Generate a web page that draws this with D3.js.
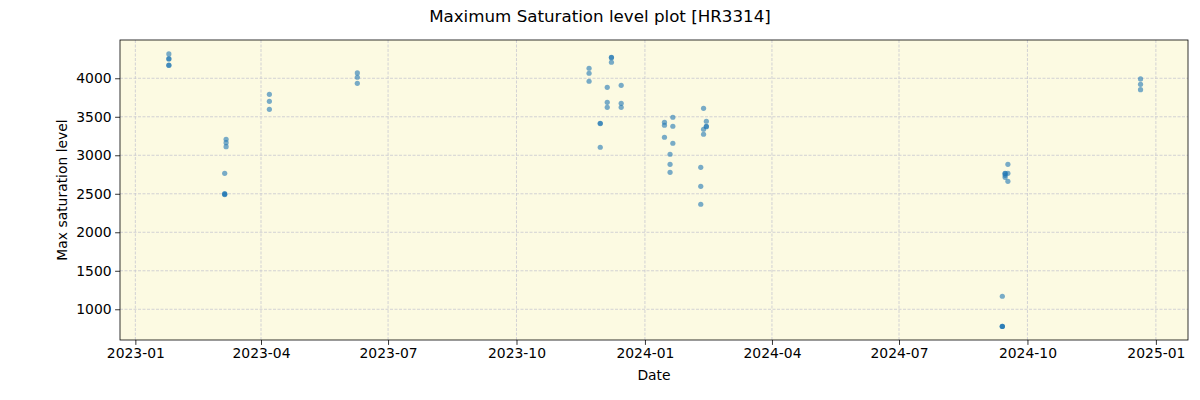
<!DOCTYPE html>
<html><head><meta charset="utf-8">
<script src="https://cdn.jsdelivr.net/npm/d3@7"></script>
<style>body{margin:0;background:#fff;} text{font-family:"DejaVu Sans",sans-serif;}</style>
</head><body>
<svg id="c" width="1200" height="400"></svg>
<script>
const dates = [
 "2023-01-25","2023-01-25","2023-01-25","2023-01-25","2023-01-25",
 "2023-03-07","2023-03-07","2023-03-07","2023-03-06","2023-03-06","2023-03-06","2023-03-06",
 "2023-04-07","2023-04-07","2023-04-07",
 "2023-06-09","2023-06-09","2023-06-09",
 "2023-11-22","2023-11-22","2023-11-22",
 "2023-12-08","2023-12-08","2023-12-08",
 "2023-12-05","2023-12-05","2023-12-05",
 "2023-12-15","2023-12-15","2023-12-15",
 "2023-11-30","2023-11-30","2023-11-30",
 "2024-01-15","2024-01-15","2024-01-15",
 "2024-01-21","2024-01-21","2024-01-21",
 "2024-01-19","2024-01-19","2024-01-19",
 "2024-02-10","2024-02-10","2024-02-10",
 "2024-02-12","2024-02-12","2024-02-12",
 "2024-02-14","2024-02-14","2024-02-14",
 "2024-09-17","2024-09-17","2024-09-17",
 "2024-09-15","2024-09-15","2024-09-15","2024-09-15",
 "2024-09-13","2024-09-13","2024-09-13","2024-09-13",
 "2024-12-21","2024-12-21","2024-12-21"
];
const values = [
 4316,4255,4250,4170,4168,
 3208,3164,3112,2766,2501,2495,2490,
 3792,3701,3597,
 4069,4013,3935,
 4130,4065,3961,
 4273,4268,4208,
 3883,3688,3623,
 3909,3675,3623,
 3416,3412,3104,
 3429,3390,3234,
 3494,3377,3156,
 3013,2883,2779,
 2844,2597,2364,
 3610,3338,3273,
 3442,3377,3372,
 2883,2766,2662,
 2766,2762,2740,2714,
 1169,779,778,776,
 3991,3922,3852
];
const yTicks = [1000,1500,2000,2500,3000,3500,4000];
const xTicks = ["2023-01-01","2023-04-01","2023-07-01","2023-10-01","2024-01-01","2024-04-01","2024-07-01","2024-10-01","2025-01-01"];
const title = "Maximum Saturation level plot [HR3314]";

const parse = d3.utcParse("%Y-%m-%d");
const fmt = d3.utcFormat("%Y-%m");
const L=120,R=1188,T=40,B=340;
const svg = d3.select("#c");
const x = d3.scaleUtc().domain([parse("2022-12-21"), parse("2025-01-24")]).range([L,R]);
const y = d3.scaleLinear().domain([601,4497]).range([B,T]);

svg.append("rect").attr("x",L).attr("y",T).attr("width",R-L).attr("height",B-T).attr("fill","#fcfae2");

const g = svg.append("g");
g.selectAll(".gx").data(xTicks).enter().append("line")
 .attr("x1",d=>x(parse(d))).attr("x2",d=>x(parse(d))).attr("y1",T).attr("y2",B)
 .attr("stroke","#c8c8d0").attr("stroke-width",0.8).attr("stroke-dasharray","3,1.5");
g.selectAll(".gy").data(yTicks).enter().append("line")
 .attr("y1",d=>y(d)).attr("y2",d=>y(d)).attr("x1",L).attr("x2",R)
 .attr("stroke","#c8c8d0").attr("stroke-width",0.8).attr("stroke-dasharray","3,1.5");

svg.append("g").selectAll("circle").data(dates.map((d,i)=>({d:parse(d),v:values[i]}))).enter()
 .append("circle").attr("cx",d=>x(d.d)).attr("cy",d=>y(d.v)).attr("r",2.6)
 .attr("fill","#1f77b4").attr("fill-opacity",0.6);

const xa = svg.append("g").attr("transform",`translate(0,${B})`)
 .call(d3.axisBottom(x).tickValues(xTicks.map(parse)).tickFormat(fmt).tickSizeOuter(0).tickSize(4.9).tickPadding(3.5));
const ya = svg.append("g").attr("transform",`translate(${L},0)`)
 .call(d3.axisLeft(y).tickValues(yTicks).tickFormat(d3.format("d")).tickSizeOuter(0).tickSize(4.9).tickPadding(3.5));
[xa,ya].forEach(a=>{a.select(".domain").remove();a.selectAll("text").attr("font-size","13.9px").attr("font-family","DejaVu Sans").attr("fill","#000");a.selectAll("line").attr("stroke","#000").attr("stroke-width",0.8);});

svg.append("rect").attr("x",L).attr("y",T).attr("width",R-L).attr("height",B-T).attr("fill","none").attr("stroke","#000").attr("stroke-width",0.8);

svg.append("text").attr("x",600).attr("y",22).attr("text-anchor","middle").attr("font-size","16.7px").text(title);
svg.append("text").attr("x",654).attr("y",380).attr("text-anchor","middle").attr("font-size","13.9px").text("Date");
svg.append("text").attr("transform","translate(67,190) rotate(-90)").attr("text-anchor","middle").attr("font-size","13.9px").text("Max saturation level");
</script>
</body></html>
